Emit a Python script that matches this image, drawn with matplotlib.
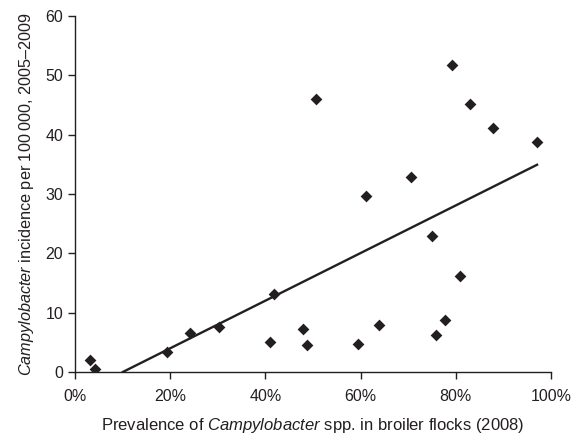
import numpy as np
import matplotlib
matplotlib.use('Agg')
import matplotlib.pyplot as plt
from matplotlib.ticker import FuncFormatter

# prevalence in broiler flocks (%) and incidence per 100 000
prevalence = [3.2, 4.2, 19.3, 24.2, 30.3, 41.0, 41.9, 48.0, 48.7, 59.5, 63.9,
              75.8, 77.7, 80.9, 50.6, 61.1, 70.7, 75.1, 79.3, 83.0, 87.9, 97.1]
incidence = [2.0, 0.5, 3.4, 6.6, 7.6, 5.0, 13.2, 7.2, 4.5, 4.7, 8.0,
             6.3, 8.7, 16.2, 46.0, 29.6, 32.9, 22.9, 51.7, 45.2, 41.2, 38.8]
xticks = [0, 20, 40, 60, 80, 100]
yticks = [0, 10, 20, 30, 40, 50, 60]

plt.rcParams['font.family'] = ['Liberation Sans', 'DejaVu Sans']
plt.rcParams['mathtext.fontset'] = 'custom'
plt.rcParams['mathtext.rm'] = 'Liberation Sans'
plt.rcParams['mathtext.it'] = 'Liberation Sans:italic'
col = '#231f20'

fig = plt.figure(figsize=(5.75, 4.37), dpi=100)
ax = fig.add_axes([0.1304, 0.1487, 0.8276, 0.8147])

x = np.array(prevalence)
y = np.array(incidence)
ax.scatter(x, y, marker='D', s=36, color=col, zorder=3, linewidths=0)

# linear trendline, clipped at y=0
k, b = np.polyfit(x, y, 1)
x0 = max(-b / k, x.min())
xs = np.array([x0, x.max()])
ax.plot(xs, k * xs + b, color=col, lw=1.7, zorder=2)

ax.set_xlim(0, 100)
ax.set_ylim(0, 60)
ax.set_xticks(xticks)
ax.set_yticks(yticks)
ax.xaxis.set_major_formatter(FuncFormatter(lambda v, p: '%d%%' % v))
for s in ['top', 'right']:
    ax.spines[s].set_visible(False)
for s in ['left', 'bottom']:
    ax.spines[s].set_color(col)
    ax.spines[s].set_linewidth(1.0)
ax.tick_params(colors=col, labelsize=11.5, length=5, width=1.0, direction='out')
ax.tick_params(axis='x', pad=7)

ax.set_xlabel('Prevalence of $\\it{Campylobacter}$ spp. in broiler flocks (2008)',
              fontsize=12, color=col, labelpad=9)
ax.set_ylabel('$\\it{Campylobacter}$ incidence per 100\u2009000, 2005\u20132009',
              fontsize=11.7, color=col, labelpad=7)

fig.savefig('out.png', dpi=100)
